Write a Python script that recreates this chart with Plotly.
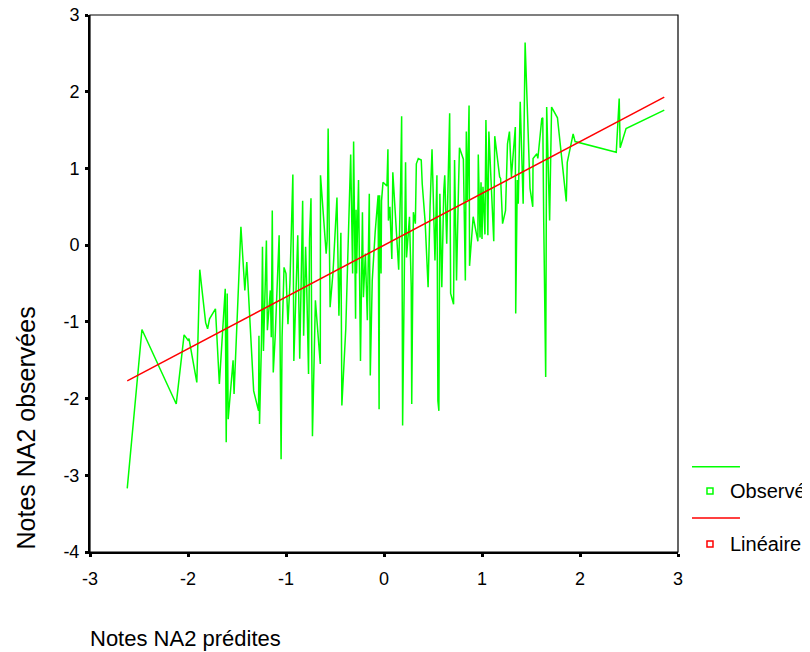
import plotly.graph_objects as go

pred_x = [
    -2.62, -2.47, -2.12, -2.04, -2.00, -1.99, -1.91, -1.88, -1.82, -1.80,
    -1.78, -1.72, -1.68, -1.62, -1.61, -1.60, -1.59, -1.54, -1.53, -1.46,
    -1.42, -1.40, -1.33, -1.28, -1.276, -1.27, -1.25, -1.24, -1.23, -1.20,
    -1.19, -1.16, -1.15, -1.14, -1.13, -1.11, -1.07, -1.05, -1.04, -1.02,
    -1.00, -0.98, -0.96, -0.93, -0.92, -0.88, -0.86, -0.83, -0.82, -0.80,
    -0.79, -0.77, -0.76, -0.745, -0.738, -0.73, -0.70, -0.65, -0.648, -0.59,
    -0.58, -0.57, -0.55, -0.52, -0.48, -0.46, -0.44, -0.43, -0.39, -0.34,
    -0.32, -0.31, -0.29, -0.285, -0.28, -0.26, -0.24, -0.22, -0.21, -0.19,
    -0.17, -0.15, -0.14, -0.12, -0.09, -0.06, -0.05, -0.045, -0.03, -0.025,
    -0.01, 0.03, 0.04, 0.045, 0.06, 0.08, 0.09, 0.12, 0.15, 0.17,
    0.18, 0.19, 0.20, 0.21, 0.22, 0.23, 0.26, 0.278, 0.283, 0.30,
    0.32, 0.33, 0.35, 0.38, 0.39, 0.42, 0.45, 0.47, 0.49, 0.52,
    0.54, 0.55, 0.56, 0.57, 0.59, 0.61, 0.62, 0.64, 0.67, 0.68,
    0.71, 0.72, 0.74, 0.76, 0.77, 0.81, 0.83, 0.84, 0.85, 0.868,
    0.873, 0.91, 0.958, 0.962, 0.98, 0.99, 1.00, 1.01, 1.03, 1.04,
    1.06, 1.07, 1.10, 1.12, 1.13, 1.18, 1.19, 1.21, 1.24, 1.26,
    1.28, 1.30, 1.34, 1.344, 1.36, 1.37, 1.39, 1.42, 1.44, 1.49,
    1.518, 1.521, 1.56, 1.57, 1.61, 1.62, 1.63, 1.65, 1.66, 1.69,
    1.71, 1.77, 1.86, 1.87, 1.93, 1.95, 2.37, 2.40, 2.41, 2.47,
    2.86,
]
obs_y = [
    -3.17, -1.10, -2.07, -1.17, -1.24, -1.22, -1.79, -0.32, -1.01, -1.09,
    -0.96, -0.83, -1.81, -0.57, -2.57, -0.63, -2.27, -1.50, -1.94, 0.24,
    -0.59, -0.22, -1.90, -2.16, -1.18, -2.33, -1.24, -0.02, -1.38, 0.06,
    -1.11, -0.59, -1.20, 0.45, -1.66, -1.18, 0.13, -2.79, -1.20, -0.29,
    -0.37, -1.03, -0.50, 0.92, -1.51, 0.13, -1.48, 0.58, -1.18, -0.02,
    -0.46, -1.68, 0.08, 0.61, -1.24, -2.49, -0.72, -1.55, 0.91, -0.11,
    0.07, 1.52, -0.81, -0.35, 0.62, -0.92, 0.16, -2.09, -1.09, 1.18,
    -0.37, 1.35, -0.96, 0.46, -0.37, 0.85, -1.51, 0.43, -0.68, -0.11,
    -0.98, 0.67, -1.70, -0.46, 0.17, 0.65, -2.14, 0.65, -0.37, 0.58,
    0.82, 0.77, 1.25, 0.32, 0.50, -0.18, 0.95, 0.37, -0.32, 0.84,
    1.68, -2.35, -1.16, 0.74, 1.08, -0.16, 0.37, -0.55, -2.07, 0.43,
    0.28, 1.06, 1.13, 1.11, 0.80, 0.30, -0.55, 0.50, 1.25, -0.20,
    0.91, -2.03, -2.16, 0.67, -0.55, 0.71, 0.91, 0.02, 1.72, -0.63,
    -0.77, 1.11, -0.46, 0.74, 1.27, 1.12, -0.46, 1.48, 0.59, 1.82,
    -0.27, 0.37, 0.05, 1.18, 0.10, 0.82, 0.08, 0.76, 0.14, 1.63,
    0.13, 1.48, 0.54, 0.05, 1.42, 0.89, 0.87, 0.28, 0.45, 1.32,
    1.48, 0.89, 1.54, -0.89, 0.85, 0.54, 1.87, 0.54, 2.64, 0.74,
    0.50, 1.13, 1.19, 1.13, 1.65, 1.66, 0.30, -1.72, 1.80, 0.32,
    1.80, 1.66, 0.57, 1.08, 1.45, 1.35, 1.21, 1.91, 1.27, 1.52,
    1.76,
]

# linear fit line end points
fit_x = [-2.62, 2.86]
fit_y = [-1.77, 1.93]

x_ticks = [-3, -2, -1, 0, 1, 2, 3]
x_labels = ["-3", "-2", "-1", "0", "1", "2", "3"]
y_ticks = [-4, -3, -2, -1, 0, 1, 2, 3]
y_labels = ["-4", "-3", "-2", "-1", "0", "1", "2", "3"]

GREEN = "#00ff00"
RED = "#ff0000"
FONT = "Liberation Sans, Arial, sans-serif"

fig = go.Figure()

fig.add_trace(go.Scatter(
    x=pred_x, y=obs_y, mode="lines", name="Observé",
    line=dict(color=GREEN, width=1.5), showlegend=False,
))
fig.add_trace(go.Scatter(
    x=fit_x, y=fit_y, mode="lines", name="Linéaire",
    line=dict(color=RED, width=1.5), showlegend=False,
))

axis_common = dict(
    showgrid=False, zeroline=False, showline=True, linecolor="black",
    linewidth=2, ticks="outside", ticklen=3, tickwidth=3, tickcolor="black",
    tickfont=dict(size=18, color="black", family=FONT),
    ticklabeloverflow="allow", automargin=False,
)

fig.update_xaxes(range=[-3, 3], tickvals=x_ticks, ticktext=x_labels,
                 ticklabelstandoff=6, **axis_common)
fig.update_yaxes(range=[-4, 3], tickvals=y_ticks, ticktext=y_labels,
                 ticklabelstandoff=2, **axis_common)

# thin frame on top/right, SPSS style
shapes = [dict(type="rect", xref="paper", yref="paper", x0=0, y0=0, x1=1, y1=1,
               line=dict(color="black", width=1.2))]

# hand-built legend: line sample, then marker + label
legend_rows = [(0.1586, 0.1138, GREEN, "Observé"), (0.0634, 0.0149, RED, "Linéaire")]
annotations = []
for line_y, mark_y, color, label in legend_rows:
    shapes.append(dict(type="line", xref="paper", yref="paper",
                       x0=1.0238, x1=1.1054, y0=line_y, y1=line_y,
                       line=dict(color=color, width=1.5)))
    shapes.append(dict(type="rect", xref="paper", yref="paper",
                       xsizemode="pixel", ysizemode="pixel",
                       xanchor=1.0544, yanchor=mark_y,
                       x0=-3, x1=3, y0=-3, y1=3,
                       line=dict(color=color, width=1.5)))
    annotations.append(dict(xref="paper", yref="paper", x=1.0850, y=mark_y,
                            xanchor="left", yanchor="middle", showarrow=False,
                            text=label, font=dict(size=20, color="black", family=FONT)))

annotations.append(dict(xref="paper", yref="paper", x=-0.004, y=-0.1604,
                        xanchor="left", yanchor="middle", showarrow=False,
                        text="Notes NA2 prédites",
                        font=dict(size=22, color="black", family=FONT)))
annotations.append(dict(xref="paper", yref="paper", x=-0.1105, y=0,
                        xanchor="center", yanchor="bottom", showarrow=False,
                        textangle=-90, text="Notes NA2 observées",
                        font=dict(size=25, color="black", family=FONT)))

fig.update_layout(
    width=810, height=652,
    margin=dict(l=82, r=140, t=7, b=108),
    plot_bgcolor="white", paper_bgcolor="white",
    shapes=shapes, annotations=annotations,
    font=dict(family=FONT),
)

fig.write_html("out.html")
